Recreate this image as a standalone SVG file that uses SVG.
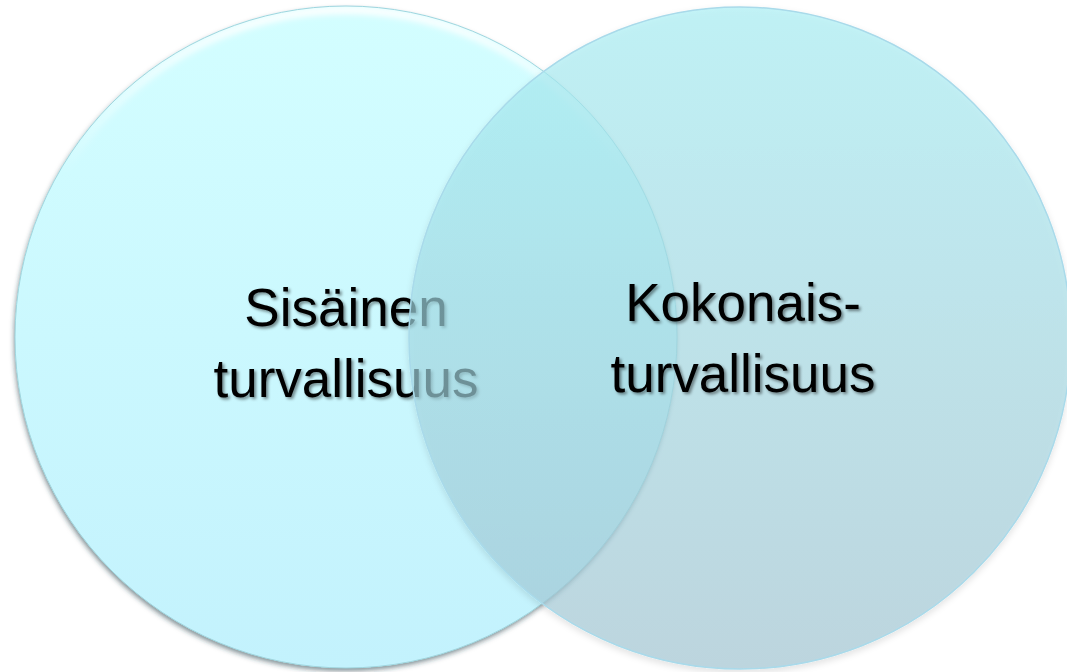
<svg xmlns="http://www.w3.org/2000/svg" width="1067" height="672" viewBox="0 0 1067 672">
  <defs>
    <linearGradient id="gL" x1="0" y1="0" x2="0" y2="1">
      <stop offset="0" stop-color="#D3FEFF"/>
      <stop offset="1" stop-color="#C3F2FD"/>
    </linearGradient>
    <linearGradient id="gR" x1="0" y1="0" x2="0" y2="1">
      <stop offset="0" stop-color="#A6EFF5"/>
      <stop offset="1" stop-color="#A2C6D4"/>
    </linearGradient>
    <linearGradient id="gHi" x1="0" y1="0" x2="0" y2="1">
      <stop offset="0" stop-color="#FFFFFF" stop-opacity="1"/>
      <stop offset="0.25" stop-color="#FFFFFF" stop-opacity="0"/>
    </linearGradient>
    <filter id="shL" x="-10%" y="-10%" width="120%" height="120%">
      <feDropShadow dx="-1" dy="3" stdDeviation="2.5" flood-color="#1F3A44" flood-opacity="0.55"/>
    </filter>
    <filter id="shR" x="-10%" y="-10%" width="120%" height="120%">
      <feDropShadow dx="0" dy="3" stdDeviation="3" flood-color="#000000" flood-opacity="0.15"/>
    </filter>
    <filter id="blur" x="-10%" y="-10%" width="120%" height="120%">
      <feGaussianBlur stdDeviation="3"/>
    </filter>
    <filter id="tsh" x="-10%" y="-20%" width="120%" height="140%">
      <feDropShadow dx="2" dy="2" stdDeviation="1.5" flood-color="#000000" flood-opacity="0.45"/>
    </filter>
    <clipPath id="clipL">
      <circle cx="346" cy="337" r="331"/>
    </clipPath>
    <style>
      .lbl { font-family: "Liberation Sans", Arial, sans-serif; font-size: 53px; fill: #000000; text-anchor: middle; }
    </style>
  </defs>

  <g id="node-sisainen">
    <circle cx="346" cy="337" r="331" fill="url(#gL)" filter="url(#shL)"/>
    <g clip-path="url(#clipL)">
      <circle cx="346" cy="337" r="327" fill="none" stroke="url(#gHi)" stroke-width="8" filter="url(#blur)"/>
    </g>
    <circle cx="346" cy="337" r="331" fill="none" stroke="#9FD6DF" stroke-width="1"/>
    <text class="lbl" filter="url(#tsh)"><tspan x="346" y="326">Sisäinen</tspan><tspan x="346" y="397">turvallisuus</tspan></text>
  </g>

  <g id="node-kokonais">
    <circle cx="740" cy="338" r="331" fill="url(#gR)" fill-opacity="0.65" stroke="#A9DAEA" stroke-width="1.5" filter="url(#shR)"/>
    <text class="lbl" filter="url(#tsh)"><tspan x="743" y="321">Kokonais-</tspan><tspan x="743" y="392">turvallisuus</tspan></text>
  </g>

  <g id="connectors"/>
</svg>
